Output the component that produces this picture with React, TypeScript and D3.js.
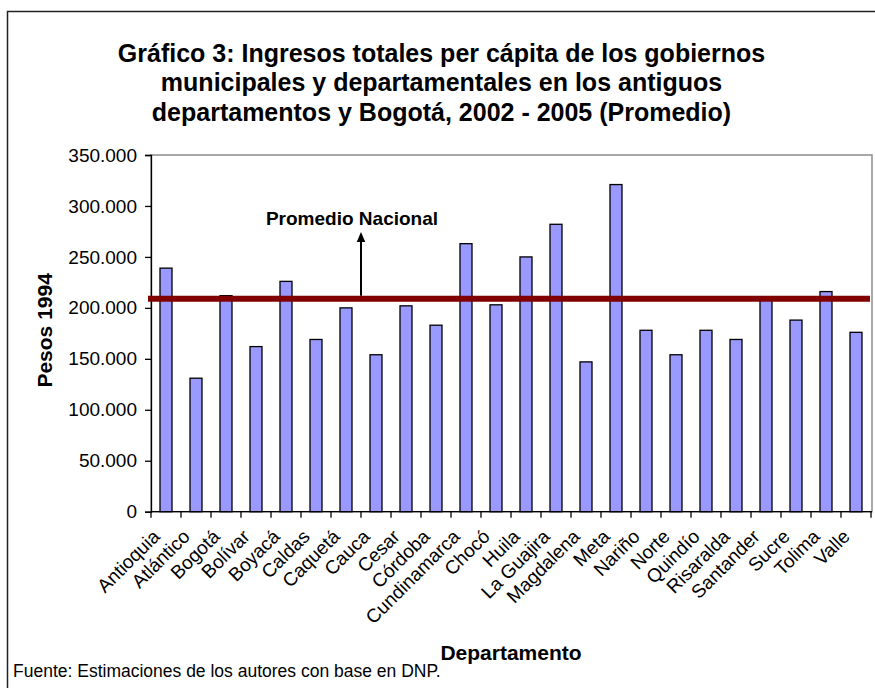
import * as d3 from "d3";
import React, { useEffect, useRef } from "react";

// departamentos, in the order of the x axis
const categories = [
  "Antioquia", "Atlántico", "Bogotá", "Bolívar", "Boyacá", "Caldas", "Caquetá", "Cauca",
  "Cesar", "Córdoba", "Cundinamarca", "Chocó", "Huila", "La Guajira", "Magdalena", "Meta",
  "Nariño", "Norte", "Quindío", "Risaralda", "Santander", "Sucre", "Tolima", "Valle",
];

// ingresos per capita, pesos 1994
const values = [
  239000, 131000, 212000, 162000, 226000, 169000, 200000, 154000,
  202000, 183000, 263000, 203000, 250000, 282000, 147000, 321000,
  178000, 154000, 178000, 169000, 209000, 188000, 216000, 176000,
];

const promedioNacional = 209000;
const yTicks = [0, 50000, 100000, 150000, 200000, 250000, 300000, 350000];

const titleLines = [
  "Gráfico 3: Ingresos totales per cápita de los gobiernos",
  "municipales y departamentales en los antiguos",
  "departamentos y Bogotá, 2002 - 2005 (Promedio)",
];

const FONT = "'Liberation Sans', Arial, Helvetica, sans-serif";

function drawChart(el: SVGSVGElement) {
  const svg = d3.select(el);
  svg.selectAll("*").remove();

  const width = 875,
    height = 688;
  const plot = { left: 151, right: 871, top: 155, bottom: 511.7 };

  svg.attr("width", width).attr("height", height).style("font-family", FONT);

  // white background + outer chart frame (runs off the right/bottom edge)
  svg.append("rect").attr("width", width).attr("height", height).attr("fill", "#fff");
  svg
    .append("rect")
    .attr("x", 7.5)
    .attr("y", 11.5)
    .attr("width", 900)
    .attr("height", 700)
    .attr("fill", "none")
    .attr("stroke", "#222")
    .attr("stroke-width", 1.5);

  // title
  svg
    .append("g")
    .selectAll("text")
    .data(titleLines)
    .join("text")
    .attr("x", 441.5)
    .attr("y", (d, i) => 61.7 + i * 29.4)
    .attr("text-anchor", "middle")
    .attr("font-size", 25)
    .attr("font-weight", "bold")
    .text(d => d);

  const x = d3
    .scaleBand()
    .domain(categories)
    .range([plot.left, plot.right])
    .paddingInner(0.6)
    .paddingOuter(0.3);
  const y = d3.scaleLinear().domain([0, 350000]).range([plot.bottom, plot.top]);

  // plot area border (grey)
  svg
    .append("rect")
    .attr("x", plot.left)
    .attr("y", plot.top)
    .attr("width", plot.right - plot.left + 1)
    .attr("height", plot.bottom - plot.top)
    .attr("fill", "none")
    .attr("stroke", "#8c8c8c")
    .attr("stroke-width", 1.5);

  // bars
  svg
    .append("g")
    .selectAll("rect")
    .data(categories)
    .join("rect")
    .attr("x", d => x(d)!)
    .attr("y", (d, i) => y(values[i]))
    .attr("width", x.bandwidth())
    .attr("height", (d, i) => y(0) - y(values[i]))
    .attr("fill", "#9999ff")
    .attr("stroke", "#000")
    .attr("stroke-width", 1.3);

  // y axis, spanish number format 350.000
  const es = d3.formatLocale({ decimal: ",", thousands: ".", grouping: [3], currency: ["$", ""] });
  const yAxis = svg
    .append("g")
    .attr("transform", `translate(${plot.left},0)`)
    .call(d3.axisLeft(y).tickValues(yTicks).tickSize(6).tickPadding(8).tickFormat(es.format(",")));
  yAxis.select(".domain").attr("stroke", "#000").attr("stroke-width", 1.3);
  yAxis.selectAll(".tick line").attr("stroke", "#000").attr("stroke-width", 1.3);
  yAxis
    .selectAll(".tick text")
    .attr("font-size", 19)
    .attr("font-family", FONT)
    .attr("fill", "#000");

  // x axis: baseline + ticks between the bands
  const step = x.step();
  const gx = svg.append("g");
  gx.append("line")
    .attr("x1", plot.left)
    .attr("x2", plot.right + 1)
    .attr("y1", y(0))
    .attr("y2", y(0))
    .attr("stroke", "#000")
    .attr("stroke-width", 1.3);
  gx.selectAll("line.tk")
    .data(d3.range(categories.length + 1))
    .join("line")
    .attr("class", "tk")
    .attr("x1", i => plot.left + i * step)
    .attr("x2", i => plot.left + i * step)
    .attr("y1", y(0))
    .attr("y2", y(0) + 6)
    .attr("stroke", "#000")
    .attr("stroke-width", 1.3);
  gx.selectAll("text")
    .data(categories)
    .join("text")
    .attr("transform", d => `translate(${x(d)! + x.bandwidth() / 2 - 5},${y(0) + 26}) rotate(-45)`)
    .attr("text-anchor", "end")
    .attr("font-size", 19)
    .text(d => d);

  // promedio nacional line
  svg
    .append("line")
    .attr("x1", plot.left - 3)
    .attr("x2", plot.right - 1)
    .attr("y1", y(promedioNacional))
    .attr("y2", y(promedioNacional))
    .attr("stroke", "#800000")
    .attr("stroke-width", 6);

  // arrow + label
  const ax = x("Cauca")! - (step * x.paddingInner()) / 2;
  const tipY = y(274500);
  svg
    .append("line")
    .attr("x1", ax)
    .attr("x2", ax)
    .attr("y1", y(promedioNacional) - 3)
    .attr("y2", tipY + 8)
    .attr("stroke", "#000")
    .attr("stroke-width", 2);
  svg
    .append("path")
    .attr("d", `M${ax},${tipY} L${ax - 4.3},${tipY + 10} L${ax + 4.3},${tipY + 10} Z`)
    .attr("fill", "#000");
  svg
    .append("text")
    .attr("x", ax - 9)
    .attr("y", y(281300))
    .attr("text-anchor", "middle")
    .attr("font-size", 19)
    .attr("font-weight", "bold")
    .text("Promedio Nacional");

  // axis titles
  svg
    .append("text")
    .attr("transform", `translate(52,${(plot.top + plot.bottom) / 2 - 3}) rotate(-90)`)
    .attr("text-anchor", "middle")
    .attr("font-size", 21)
    .attr("font-weight", "bold")
    .text("Pesos 1994");
  svg
    .append("text")
    .attr("x", (plot.left + plot.right) / 2)
    .attr("y", 660)
    .attr("text-anchor", "middle")
    .attr("font-size", 21)
    .attr("font-weight", "bold")
    .text("Departamento");

  // source note
  svg
    .append("text")
    .attr("x", 13)
    .attr("y", 677)
    .attr("font-size", 17.5)
    .text("Fuente: Estimaciones de los autores con base en DNP.");
}

export default function App() {
  const ref = useRef<SVGSVGElement>(null);

  useEffect(() => {
    if (ref.current) drawChart(ref.current);
  }, []);

  return <svg ref={ref} style={{ position: "absolute", left: 0, top: 0, display: "block" }} />;
}
